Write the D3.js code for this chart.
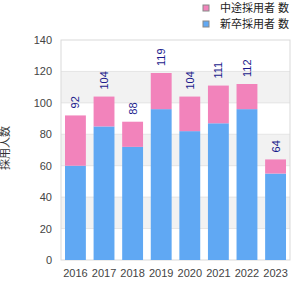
<!DOCTYPE html>
<html>
<head>
<meta charset="utf-8">
<script src="https://cdn.jsdelivr.net/npm/d3@7"></script>
<style>
  body { margin: 0; background: #fff; }
  text { font-family: "Liberation Sans", Arial, "Noto Sans CJK JP", sans-serif; }
</style>
</head>
<body>
<div id="chart"></div>
<script>
var years = ["2016", "2017", "2018", "2019", "2020", "2021", "2022", "2023"]
var blueVals = [60, 85, 72, 96, 82, 87, 96, 55]
var pinkVals = [32, 19, 16, 23, 22, 24, 16, 9]
var yTicks = [0, 20, 40, 60, 80, 100, 120, 140]
var seriesNames = ["中途採用者 数", "新卒採用者 数"]
var yTitle = "採用人数"

var margin = {top: 40, right: 10, bottom: 40, left: 61},
    width = 290 - margin.left,
    height = 260 - margin.top

var svg = d3.select("#chart")
  .append("svg")
    .attr("width", 300)
    .attr("height", 300)

var g = svg.append("g")
    .attr("transform", "translate(" + margin.left + "," + margin.top + ")")

var x = d3.scaleBand()
  .domain(years)
  .range([0, width])
  .paddingInner(0.27)
  .paddingOuter(0.14)

var y = d3.scaleLinear()
  .domain([0, 140])
  .range([height, 0])

// alternating bands
for (var i = 0; i < yTicks.length - 1; i++) {
  g.append("rect")
    .attr("x", 0)
    .attr("y", y(yTicks[i + 1]))
    .attr("width", width)
    .attr("height", y(yTicks[i]) - y(yTicks[i + 1]))
    .attr("fill", i % 2 == 1 ? "#f2f2f2" : "#fff")
}

// grid lines
g.selectAll(".grid")
  .data(yTicks.slice(1, -1))
  .enter()
  .append("line")
  .attr("x1", 0).attr("x2", width)
  .attr("y1", function(d) { return y(d) })
  .attr("y2", function(d) { return y(d) })
  .attr("stroke", "#e4e4e4")

g.append("rect")
  .attr("x", 0).attr("y", 0)
  .attr("width", width).attr("height", height)
  .attr("fill", "none")
  .attr("stroke", "#d9d9d9")

var data = years.map(function(yr, i) {
  return {year: yr, blue: blueVals[i], pink: pinkVals[i], total: blueVals[i] + pinkVals[i]}
})

g.selectAll(".blue")
  .data(data)
  .enter()
  .append("rect")
  .attr("x", function(d) { return x(d.year) })
  .attr("width", x.bandwidth())
  .attr("y", function(d) { return y(d.blue) })
  .attr("height", function(d) { return height - y(d.blue) })
  .attr("fill", "#60a8f3")

g.selectAll(".pink")
  .data(data)
  .enter()
  .append("rect")
  .attr("x", function(d) { return x(d.year) })
  .attr("width", x.bandwidth())
  .attr("y", function(d) { return y(d.total) })
  .attr("height", function(d) { return y(d.blue) - y(d.total) })
  .attr("fill", "#f283bb")

// value labels
g.selectAll(".lbl")
  .data(data)
  .enter()
  .append("text")
  .attr("transform", function(d) {
    return "translate(" + (x(d.year) + x.bandwidth() / 2 + 4) + "," + (y(d.total) - 7) + ")rotate(-90)"
  })
  .style("font-size", "11px")
  .attr("fill", "#1a1a8c")
  .text(function(d) { return d.total })

// y axis labels
g.selectAll(".ytick")
  .data(yTicks)
  .enter()
  .append("text")
  .attr("x", -9)
  .attr("y", function(d) { return y(d) + 4 })
  .attr("text-anchor", "end")
  .style("font-size", "11px")
  .attr("fill", "#444")
  .text(function(d) { return d })

// x axis labels
g.selectAll(".xtick")
  .data(years)
  .enter()
  .append("text")
  .attr("x", function(d) { return x(d) + x.bandwidth() / 2 })
  .attr("y", height + 17)
  .attr("text-anchor", "middle")
  .style("font-size", "11px")
  .attr("fill", "#444")
  .text(function(d) { return d })

// y title
svg.append("text")
  .attr("transform", "translate(9,148)rotate(-90)")
  .attr("text-anchor", "middle")
  .style("font-size", "11px")
  .attr("fill", "#333")
  .text(yTitle)

// legend
var legColors = ["#f283bb", "#60a8f3"]
var leg = svg.selectAll(".leg")
  .data(seriesNames)
  .enter()
  .append("g")
  .attr("transform", function(d, i) { return "translate(203," + (5 + i * 16) + ")" })

leg.append("rect")
  .attr("width", 6).attr("height", 6)
  .attr("fill", function(d, i) { return legColors[i] })
  .attr("stroke", "#888")

leg.append("text")
  .attr("x", 17)
  .attr("y", 7)
  .style("font-size", "11px")
  .attr("fill", "#222")
  .text(function(d) { return d })
</script>
</body>
</html>
